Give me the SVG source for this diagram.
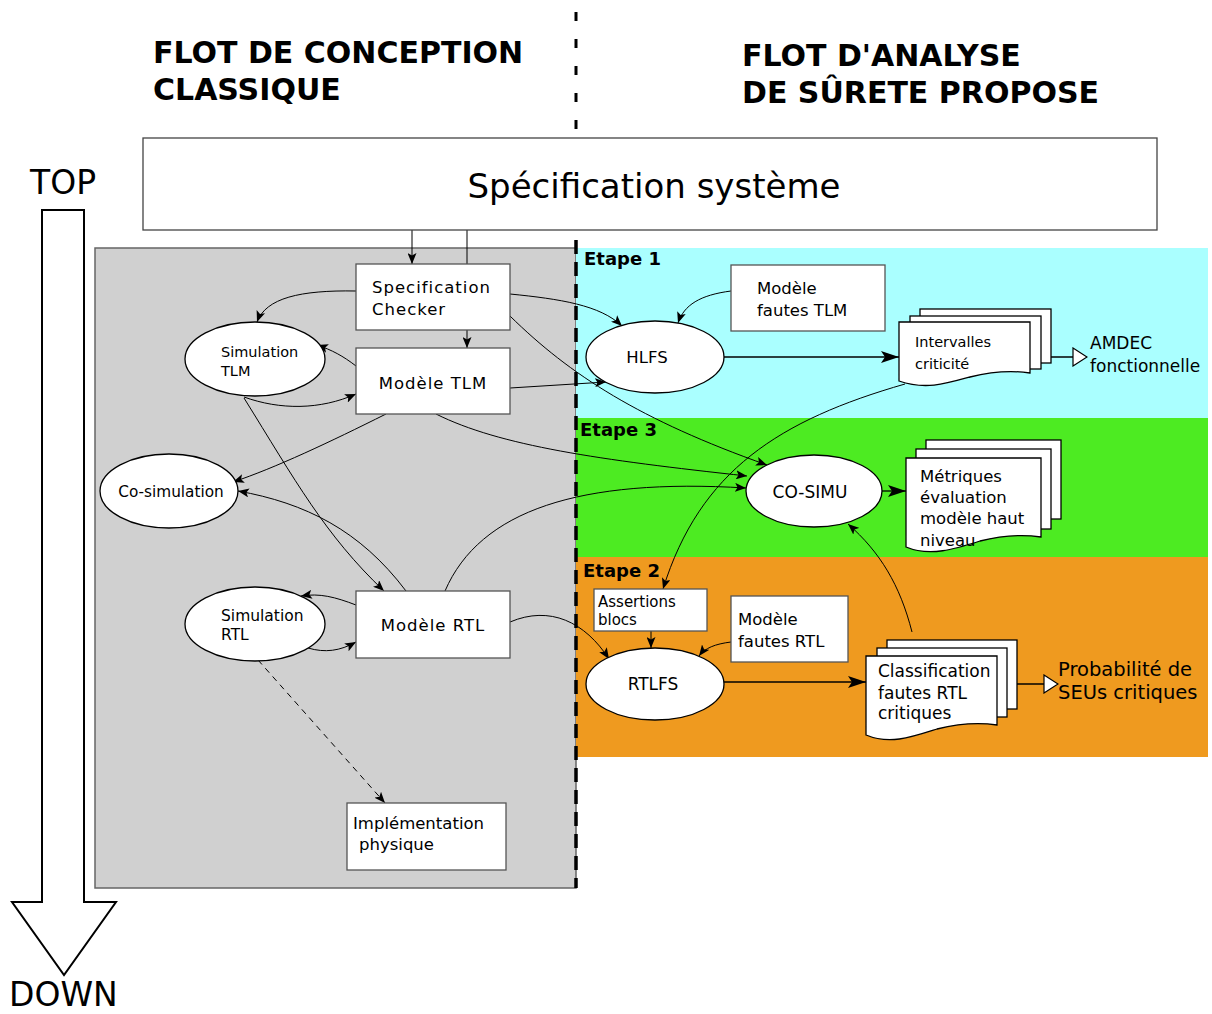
<svg xmlns="http://www.w3.org/2000/svg" width="1212" height="1014" viewBox="0 0 1212 1014">
  <defs>
    <style>
      text { font-family: "DejaVu Sans", Verdana, sans-serif; fill: #000; }
      .title { font-weight: bold; font-size: 30px; }
      .etape { font-weight: bold; font-size: 18px; }
      .box { fill: #fff; stroke: #555; stroke-width: 1.3; }
      .ell { fill: #fff; stroke: #000; stroke-width: 1.3; }
      .page { fill: #fff; stroke: #000; stroke-width: 1.3; }
      .lbl { font-size: 16.5px; }
      .spaced { letter-spacing: 1px; }
      .edge { fill: none; stroke: #000; stroke-width: 1; }
      .edge-a { fill: none; stroke: #000; stroke-width: 1; marker-end: url(#arr); }
      .edge-big { fill: none; stroke: #000; stroke-width: 1.3; marker-end: url(#bigarr); }
      .edge-open { fill: none; stroke: #000; stroke-width: 1.3; marker-end: url(#openarr); }
    </style>
    <marker id="arr" viewBox="0 0 11 9" refX="11" refY="4.5" markerWidth="11" markerHeight="9" markerUnits="userSpaceOnUse" orient="auto">
      <path d="M0,0 L11,4.5 L0,9 L2.5,4.5 Z" fill="#000"/>
    </marker>
    <marker id="bigarr" viewBox="0 0 18 12" refX="18" refY="6" markerWidth="18" markerHeight="12" markerUnits="userSpaceOnUse" orient="auto">
      <path d="M0,0 L18,6 L0,12 L4,6 Z" fill="#000"/>
    </marker>
    <marker id="openarr" viewBox="0 0 16 20" refX="15" refY="10" markerWidth="16" markerHeight="20" markerUnits="userSpaceOnUse" orient="auto">
      <path d="M1,1 L15,10 L1,19 Z" fill="#fff" stroke="#000" stroke-width="1.2"/>
    </marker>
  </defs>

  <rect width="1212" height="1014" fill="#fff"/>

  <!-- column titles -->
  <text class="title" x="153" y="63">FLOT DE CONCEPTION</text>
  <text class="title" x="153" y="100">CLASSIQUE</text>
  <text class="title" x="742" y="66">FLOT D'ANALYSE</text>
  <text class="title" x="742" y="103">DE SÛRETE PROPOSE</text>
  <line x1="576" y1="12" x2="576" y2="130" stroke="#000" stroke-width="3" stroke-dasharray="9 18"/>

  <!-- TOP / DOWN arrow -->
  <text x="30" y="194" font-size="33">TOP</text>
  <path d="M42,210 H84 V902 H116 L64,975 L12,902 H42 Z" fill="#fff" stroke="#000" stroke-width="2"/>
  <text x="9" y="1006" font-size="33">DOWN</text>

  <!-- backgrounds -->
  <rect x="95" y="248" width="481" height="640" fill="#d0d0d0" stroke="#666" stroke-width="1.5"/>
  <rect x="576" y="248" width="632" height="170" fill="#aaffff"/>
  <rect x="576" y="418" width="632" height="139" fill="#4deb22"/>
  <rect x="576" y="557" width="632" height="200" fill="#ef9a1f"/>
  <line x1="576" y1="240" x2="576" y2="888" stroke="#000" stroke-width="3.5" stroke-dasharray="14 8"/>
  <text class="etape" x="584" y="265">Etape 1</text>
  <text class="etape" x="580" y="436">Etape 3</text>
  <text class="etape" x="583" y="577">Etape 2</text>

  <!-- connectors -->
  <g id="connectors">
    <line class="edge-a" x1="412" y1="230" x2="412" y2="264"/>
    <line class="edge" x1="467" y1="230" x2="467" y2="264"/>
    <line class="edge-a" x1="467" y1="330" x2="467" y2="348"/>
    <path class="edge-a" d="M356,291 C300,290 266,298 257,322"/>
    <path class="edge-a" d="M356,366 C343,356 332,350 317,345"/>
    <path class="edge-a" d="M244,397 C280,410 320,410 356,394"/>
    <path class="edge-a" d="M244,398 C295,480 325,535 384,591"/>
    <path class="edge-a" d="M386,414 C330,442 275,468 233,482"/>
    <path class="edge-a" d="M406,591 C360,530 305,503 238,491"/>
    <path class="edge-a" d="M436,414 C500,446 600,460 747,476"/>
    <path class="edge-a" d="M445,591 C480,510 580,478 746,488"/>
    <path class="edge-a" d="M510,294 C560,299 600,305 622,326"/>
    <path class="edge-a" d="M510,388 L606,382"/>
    <path class="edge-a" d="M510,316 C570,375 640,420 767,465"/>
    <path class="edge-a" d="M731,291 C700,295 684,305 678,323"/>
    <path class="edge-a" d="M905,384 C780,420 700,470 663,589"/>
    <path class="edge-a" d="M912,632 C900,585 880,552 848,524"/>
    <line class="edge-a" x1="651" y1="631" x2="651" y2="648"/>
    <path class="edge-a" d="M731,642 C715,644 705,648 699,656"/>
    <path class="edge-a" d="M510,622 C550,605 585,622 609,659"/>
    <line class="edge-a" x1="258" y1="660" x2="385" y2="803" stroke-dasharray="6 5"/>
    <path class="edge-a" d="M356,605 C335,597 320,593 301,596"/>
    <path class="edge-a" d="M308,648 C325,653 340,651 356,642"/>
    <line class="edge-big" x1="724" y1="357" x2="899" y2="357"/>
    <line class="edge-big" x1="882" y1="491" x2="906" y2="491"/>
    <line class="edge-big" x1="724" y1="682" x2="866" y2="682"/>
    <line class="edge-open" x1="1040" y1="357" x2="1087" y2="357"/>
    <line class="edge-open" x1="1017" y1="684" x2="1058" y2="684"/>
  </g>

  <!-- system specification -->
  <g id="spec-systeme">
    <rect x="143" y="138" width="1014" height="92" fill="#fff" stroke="#444" stroke-width="1.3"/>
    <text x="654" y="198" font-size="34" text-anchor="middle">Spécification système</text>
  </g>

  <!-- classic design flow -->
  <g id="spec-checker">
    <rect class="box" x="356" y="264" width="154" height="66"/>
    <text class="lbl spaced" x="372" y="293">Specification</text>
    <text class="lbl spaced" x="372" y="315">Checker</text>
  </g>
  <g id="modele-tlm">
    <rect class="box" x="356" y="348" width="154" height="66"/>
    <text class="lbl spaced" x="433" y="389" text-anchor="middle">Modèle TLM</text>
  </g>
  <g id="simulation-tlm">
    <ellipse class="ell" cx="255" cy="359" rx="70" ry="37"/>
    <text x="221" y="357" font-size="14.5">Simulation</text>
    <text x="221" y="376" font-size="14.5">TLM</text>
  </g>
  <g id="co-simulation">
    <ellipse class="ell" cx="169" cy="491" rx="69" ry="37"/>
    <text x="171" y="497" font-size="15.3" text-anchor="middle">Co-simulation</text>
  </g>
  <g id="simulation-rtl">
    <ellipse class="ell" cx="255" cy="624" rx="70" ry="37"/>
    <text x="221" y="621" font-size="15.5">Simulation</text>
    <text x="221" y="640" font-size="15.5">RTL</text>
  </g>
  <g id="modele-rtl">
    <rect class="box" x="356" y="591" width="154" height="67"/>
    <text class="lbl spaced" x="433" y="631" text-anchor="middle">Modèle RTL</text>
  </g>
  <g id="implementation">
    <rect class="box" x="347" y="803" width="159" height="67"/>
    <text class="lbl" x="353" y="829">Implémentation</text>
    <text class="lbl" x="359" y="850">physique</text>
  </g>

  <!-- Etape 1 -->
  <g id="hlfs">
    <ellipse class="ell" cx="655" cy="357" rx="69" ry="36"/>
    <text x="647" y="363" font-size="16.5" text-anchor="middle">HLFS</text>
  </g>
  <g id="fautes-tlm">
    <rect class="box" x="731" y="265" width="154" height="66"/>
    <text class="lbl" x="757" y="294">Modèle</text>
    <text class="lbl" x="757" y="316">fautes TLM</text>
  </g>
  <g id="intervalles">
    <rect class="page" x="920" y="309" width="131" height="54"/>
    <rect class="page" x="910" y="316" width="131" height="53"/>
    <path class="page" d="M899,322 H1030 V373 C1010,370 990,372 970,377 C945,384 925,390 899,381 Z"/>
    <text x="915" y="347" font-size="14.5">Intervalles</text>
    <text x="915" y="369" font-size="14.5">criticité</text>
  </g>
  <g id="amdec">
    <text x="1090" y="349" font-size="17">AMDEC</text>
    <text x="1090" y="372" font-size="17">fonctionnelle</text>
  </g>

  <!-- Etape 3 -->
  <g id="co-simu">
    <ellipse class="ell" cx="814" cy="491" rx="68" ry="36"/>
    <text x="810" y="498" font-size="17" text-anchor="middle">CO-SIMU</text>
  </g>
  <g id="metriques">
    <rect class="page" x="926" y="440" width="135" height="79"/>
    <rect class="page" x="916" y="449" width="135" height="80"/>
    <path class="page" d="M906,458 H1041 V537 C1020,534 1000,536 980,541 C955,549 930,557 906,547 Z"/>
    <text x="920" y="482" font-size="16.5">Métriques</text>
    <text x="920" y="503" font-size="16.5">évaluation</text>
    <text x="920" y="524" font-size="16.5">modèle haut</text>
    <text x="920" y="546" font-size="16.5">niveau</text>
  </g>

  <!-- Etape 2 -->
  <g id="assertions">
    <rect class="box" x="594" y="589" width="113" height="42"/>
    <text x="598" y="607" font-size="15">Assertions</text>
    <text x="598" y="625" font-size="15">blocs</text>
  </g>
  <g id="fautes-rtl">
    <rect class="box" x="731" y="596" width="117" height="66"/>
    <text class="lbl" x="738" y="625">Modèle</text>
    <text class="lbl" x="738" y="647">fautes RTL</text>
  </g>
  <g id="rtlfs">
    <ellipse class="ell" cx="655" cy="684" rx="69" ry="36"/>
    <text x="653" y="690" font-size="17" text-anchor="middle">RTLFS</text>
  </g>
  <g id="classification">
    <rect class="page" x="887" y="640" width="130" height="69"/>
    <rect class="page" x="877" y="648" width="130" height="69"/>
    <path class="page" d="M866,656 H997 V725 C977,722 957,724 937,729 C912,737 890,745 866,735 Z"/>
    <text x="878" y="677" font-size="17">Classification</text>
    <text x="878" y="699" font-size="17">fautes RTL</text>
    <text x="878" y="719" font-size="17">critiques</text>
  </g>
  <g id="probabilite">
    <text x="1058" y="676" font-size="19.5">Probabilité de</text>
    <text x="1058" y="699" font-size="19.5">SEUs critiques</text>
  </g>
</svg>
